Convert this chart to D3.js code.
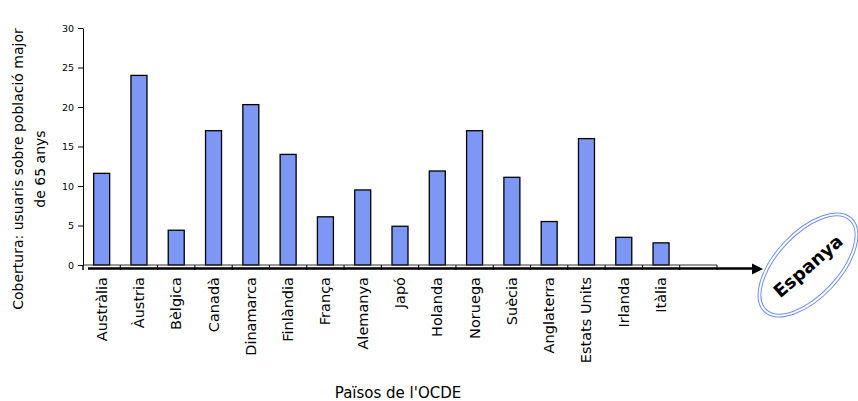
<!DOCTYPE html>
<html><head><meta charset="utf-8">
<script src="https://cdn.jsdelivr.net/npm/d3@7"></script>
<style>html,body{margin:0;padding:0;background:#fff;} svg{display:block;font-family:"DejaVu Sans",Verdana,sans-serif;}</style>
</head><body>
<svg id="c" width="858" height="401"></svg>
<script>
const categories = ["Austràlia","Àustria","Bèlgica","Canadà","Dinamarca","Finlàndia","França","Alemanya","Japó","Holanda","Noruega","Suècia","Anglaterra","Estats Units","Irlanda","Itàlia","Espanya"];
const values = [11.6,24,4.4,17,20.3,14,6.1,9.5,4.9,11.9,17,11.1,5.5,16,3.5,2.8,null];
const yTicks = [0,5,10,15,20,25,30];
const yTitleLines = ["Cobertura:  usuaris sobre població major","de 65 anys"];
const xTitle = "Països de l'OCDE";
const highlight = "Espanya";

const svg = d3.select("#c");
const x = d3.scaleBand().domain(categories).range([83,717]).paddingInner(0).paddingOuter(0);
const y = d3.scaleLinear().domain([0,30]).range([265,28]);
const barW = 16;

// bars
svg.append("g").selectAll("rect").data(categories.map((c,i)=>({c,v:values[i]})).filter(d=>d.v!=null))
  .join("rect")
  .attr("x",d=>x(d.c)+x.bandwidth()/2-barW/2)
  .attr("y",d=>y(d.v))
  .attr("width",barW)
  .attr("height",d=>y(0)-y(d.v))
  .attr("fill","#7d97f4")
  .attr("stroke","#000")
  .attr("stroke-width",1.3);

// y axis
const ya = svg.append("g").attr("transform","translate(83,0)")
  .call(d3.axisLeft(y).tickValues(yTicks).tickSize(5).tickSizeOuter(0).tickPadding(4));
ya.select(".domain").attr("stroke","#000");
ya.selectAll("text").attr("font-size","9.5px").attr("fill","#000").attr("font-family","DejaVu Sans");
svg.append("line").attr("x1",83).attr("x2",83).attr("y1",265).attr("y2",270).attr("stroke","#000");

// x axis baseline & ticks
const gx = svg.append("g");
gx.append("line").attr("x1",x.range()[0]).attr("x2",x.range()[1]).attr("y1",y(0)).attr("y2",y(0)).attr("stroke","#333").attr("stroke-width",1);
const bounds = categories.map(c=>x(c)).concat([x.range()[1]]);
gx.selectAll("line.tk").data(bounds).join("line").attr("class","tk")
  .attr("x1",d=>d).attr("x2",d=>d).attr("y1",y(0)).attr("y2",y(0)+5).attr("stroke","#000");
// arrow
gx.append("line").attr("x1",88).attr("x2",754).attr("y1",268.5).attr("y2",268.5).attr("stroke","#000").attr("stroke-width",2.5);
gx.append("path").attr("d","M752,263.5 L763,269 L752,274.5 Z").attr("fill","#000");

// category labels
svg.append("g").selectAll("text").data(categories.filter(c=>c!==highlight)).join("text")
  .attr("transform",d=>`translate(${x(d)+x.bandwidth()/2+5},277) rotate(-90)`)
  .attr("text-anchor","end")
  .attr("font-size","14.5px")
  .attr("fill","#000")
  .text(d=>d);

// y title
const yt = svg.append("text").attr("transform","translate(0,169) rotate(-90)")
  .attr("text-anchor","middle").attr("font-size","14px").attr("fill","#000");
yTitleLines.forEach((l,i)=>yt.append("tspan").attr("x",0).attr("y",23+i*22).text(l));

// x title
svg.append("text").attr("x",398).attr("y",398).attr("text-anchor","middle").attr("font-size","15px").attr("fill","#000").text(xTitle);

// highlight ellipse
const eg = svg.append("g").attr("transform","translate(808,265) rotate(-47)");
[[64,33],[61,30]].forEach(([rx,ry])=>eg.append("ellipse").attr("rx",rx).attr("ry",ry).attr("fill","none").attr("stroke","#6f8ef0").attr("stroke-width",1));
svg.append("text").attr("transform","translate(809,267) rotate(-41)")
  .attr("text-anchor","middle").attr("dominant-baseline","middle")
  .attr("font-size","18px").attr("font-weight","bold").attr("fill","#000").text(highlight);
</script>
</body></html>
